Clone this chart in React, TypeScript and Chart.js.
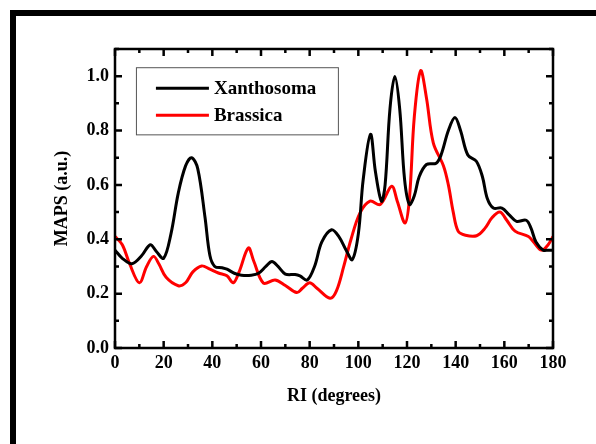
import React, { useEffect, useRef } from "react";
import { Chart, registerables } from "chart.js";

Chart.register(...registerables);

const xanthosomaX = [0, 3, 7, 11, 14.5, 17, 20, 23, 26, 29, 31.5, 34, 37, 39, 41, 44, 46, 49, 52, 56, 59, 62, 64.5, 67, 70, 74, 76, 79, 82, 85, 89, 92, 95, 97.5, 100, 102, 105, 107, 109.5, 111, 113, 115, 117, 119, 121, 123, 125, 128, 132, 134, 137, 139.7, 142, 145, 148.5, 151, 153, 155.5, 159, 162, 165, 169, 171, 173, 176, 178, 180];
const xanthosomaY = [0.36, 0.33, 0.31, 0.34, 0.38, 0.355, 0.33, 0.42, 0.57, 0.67, 0.70, 0.66, 0.48, 0.34, 0.30, 0.295, 0.29, 0.275, 0.268, 0.268, 0.275, 0.30, 0.318, 0.30, 0.272, 0.27, 0.265, 0.25, 0.30, 0.39, 0.435, 0.41, 0.36, 0.325, 0.42, 0.62, 0.786, 0.65, 0.54, 0.60, 0.88, 0.999, 0.88, 0.62, 0.528, 0.56, 0.63, 0.675, 0.68, 0.71, 0.80, 0.848, 0.80, 0.71, 0.687, 0.63, 0.55, 0.515, 0.515, 0.49, 0.466, 0.47, 0.44, 0.39, 0.36, 0.36, 0.36];

const brassicaX = [0, 3, 6, 10, 13, 15.8, 18, 21, 26, 29, 32, 35.6, 39, 42.5, 46, 48.6, 51, 54.8, 57, 61, 65.8, 70, 74.7, 77, 80, 83, 88.4, 91, 94, 97, 100.7, 104.8, 109, 113.7, 116, 119.2, 121, 123, 125.6, 128, 130.8, 135, 137, 139, 141, 144, 148.6, 152, 155, 158.2, 161, 164.4, 169.9, 172, 175.3, 178, 180];
const brassicaY = [0.41, 0.38, 0.31, 0.24, 0.30, 0.337, 0.31, 0.26, 0.229, 0.24, 0.28, 0.302, 0.29, 0.276, 0.266, 0.24, 0.28, 0.368, 0.32, 0.239, 0.25, 0.23, 0.204, 0.22, 0.24, 0.22, 0.183, 0.21, 0.30, 0.40, 0.497, 0.54, 0.528, 0.595, 0.54, 0.46, 0.55, 0.85, 1.02, 0.92, 0.755, 0.67, 0.60, 0.50, 0.43, 0.415, 0.413, 0.44, 0.48, 0.50, 0.47, 0.43, 0.41, 0.39, 0.36, 0.38, 0.41];

const seriesNames = ["Xanthosoma", "Brassica"];
const xTicks = [0, 20, 40, 60, 80, 100, 120, 140, 160, 180];
const yTicks = [0.0, 0.2, 0.4, 0.6, 0.8, 1.0];

const FONT = "'Liberation Serif', 'Times New Roman', serif";

const frameAndTicks = {
  id: "frameAndTicks",
  afterDatasetsDraw(chart: any) {
    const { ctx, chartArea: a, scales } = chart;
    const xs = scales.x;
    const ys = scales.y;
    ctx.save();
    ctx.strokeStyle = "#000";
    ctx.lineWidth = 2.5;
    ctx.lineCap = "butt";
    const major = 7;
    const minor = 4;
    for (let v = 0; v <= 180; v += 10) {
      const px = xs.getPixelForValue(v);
      const len = v % 20 === 0 ? major : minor;
      ctx.beginPath();
      ctx.moveTo(px, a.bottom);
      ctx.lineTo(px, a.bottom - len);
      ctx.moveTo(px, a.top);
      ctx.lineTo(px, a.top + len);
      ctx.stroke();
    }
    for (let i = 0; i <= 11; i++) {
      const v = i / 10;
      const py = ys.getPixelForValue(v);
      const len = i % 2 === 0 ? major : minor;
      ctx.beginPath();
      ctx.moveTo(a.left, py);
      ctx.lineTo(a.left + len, py);
      ctx.moveTo(a.right, py);
      ctx.lineTo(a.right - len, py);
      ctx.stroke();
    }
    ctx.lineWidth = 2.5;
    ctx.strokeRect(a.left, a.top, a.right - a.left, a.bottom - a.top);
    ctx.restore();
  },
};

const legendBox = {
  id: "legendBox",
  afterDatasetsDraw(chart: any) {
    const { ctx, scales } = chart;
    const xs = scales.x;
    const ys = scales.y;
    const left = xs.getPixelForValue(8.6);
    const right = xs.getPixelForValue(91.6);
    const top = ys.getPixelForValue(1.033);
    const bottom = ys.getPixelForValue(0.786);
    ctx.save();
    ctx.fillStyle = "#fff";
    ctx.fillRect(left, top, right - left, bottom - top);
    ctx.strokeStyle = "#555";
    ctx.lineWidth = 1;
    ctx.strokeRect(left + 0.5, top + 0.5, right - left, bottom - top);
    const colors = ["#000000", "#ff0000"];
    const rows = [top + 21, top + 48];
    ctx.font = `bold 19px ${FONT}`;
    ctx.textBaseline = "middle";
    ctx.textAlign = "left";
    seriesNames.forEach((name, i) => {
      ctx.strokeStyle = colors[i];
      ctx.lineWidth = 3;
      ctx.beginPath();
      ctx.moveTo(left + 20, rows[i]);
      ctx.lineTo(left + 73, rows[i]);
      ctx.stroke();
      ctx.fillStyle = "#000";
      ctx.fillText(name, left + 78, rows[i] + 1);
    });
    ctx.restore();
  },
};

export default function App() {
  const ref = useRef<HTMLCanvasElement>(null);
  useEffect(() => {
    if (!ref.current) return;
    const chart = new Chart(ref.current, {
      type: "line",
      data: {
        datasets: [
          {
            label: seriesNames[0],
            data: xanthosomaX.map((x, i) => ({ x, y: xanthosomaY[i] })),
            borderColor: "#000000",
            borderWidth: 3,
            pointRadius: 0,
            fill: false,
            tension: 0.35,
          },
          {
            label: seriesNames[1],
            data: brassicaX.map((x, i) => ({ x, y: brassicaY[i] })),
            borderColor: "#ff0000",
            borderWidth: 3,
            pointRadius: 0,
            fill: false,
            tension: 0.35,
          },
        ],
      },
      options: {
        animation: false,
        responsive: false,
        events: [],
        layout: { padding: { left: 52, top: 49, right: 43, bottom: 37 } },
        plugins: { legend: { display: false }, tooltip: { enabled: false } },
        scales: {
          x: {
            type: "linear",
            min: 0,
            max: 180,
            afterFit: (s: any) => {
              s.height = 59;
            },
            afterBuildTicks: (s: any) => {
              s.ticks = xTicks.map((v) => ({ value: v }));
            },
            grid: { display: false, drawTicks: false },
            border: { display: false },
            ticks: {
              padding: 5,
              color: "#000",
              maxRotation: 0,
              font: { family: FONT, size: 18, weight: "bold" },
              callback: (v: any) => String(v),
            },
            title: {
              display: true,
              text: "RI (degrees)",
              color: "#000",
              padding: { top: 0, bottom: 0 },
              font: { family: FONT, size: 18, weight: "bold" },
            },
          },
          y: {
            type: "linear",
            min: 0,
            max: 1.1,
            afterFit: (s: any) => {
              s.width = 63;
            },
            afterBuildTicks: (s: any) => {
              s.ticks = yTicks.map((v) => ({ value: v }));
            },
            grid: { display: false, drawTicks: false },
            border: { display: false },
            ticks: {
              padding: 6,
              color: "#000",
              font: { family: FONT, size: 18, weight: "bold" },
              callback: (v: any) => Number(v).toFixed(1),
            },
            title: {
              display: true,
              text: "MAPS (a.u.)",
              color: "#000",
              padding: { top: 0, bottom: 0 },
              font: { family: FONT, size: 18, weight: "bold" },
            },
          },
        },
      },
      plugins: [frameAndTicks, legendBox],
    });
    return () => chart.destroy();
  }, []);
  return (
    <div style={{ position: "fixed", left: 0, top: 0, width: 596, height: 444, background: "#fff", overflow: "hidden" }}>
      <div
        style={{
          position: "absolute",
          left: 10,
          top: 10,
          width: 700,
          height: 600,
          borderTop: "6px solid #000",
          borderLeft: "6px solid #000",
        }}
      />
      <canvas ref={ref} width={596} height={444} style={{ position: "absolute", left: 0, top: 0 }} />
    </div>
  );
}
